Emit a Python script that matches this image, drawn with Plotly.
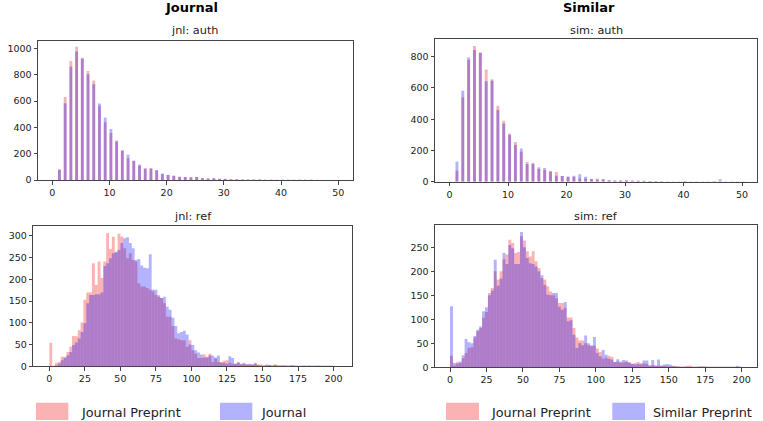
import plotly.graph_objects as go
import numpy as np

# ---------------- data ----------------
# top row: counts for integer values 0..50 (bins of width 0.5)
auth_vals = list(range(0, 51))
jnl_auth_preprint = [0, 80, 630, 904, 1013, 929, 829, 756, 564, 438, 358, 300, 224, 166, 146, 108, 88, 90, 75, 43,
                     40, 33, 25, 22, 20, 22, 15, 12, 12, 10, 10, 6, 5, 4, 4, 3, 3, 2, 2, 2,
                     2, 2, 2, 1, 1, 1, 1, 0, 0, 0, 0]
jnl_auth_journal = [0, 78, 584, 861, 977, 922, 804, 728, 582, 474, 388, 292, 224, 191, 146, 118, 88, 88, 75, 50,
                    38, 33, 25, 22, 20, 22, 14, 12, 15, 10, 8, 6, 5, 4, 3, 3, 3, 2, 2, 2,
                    2, 2, 1, 1, 1, 1, 0, 0, 0, 0, 0]
sim_auth_preprint = [0, 70, 540, 779, 868, 825, 717, 655, 486, 390, 309, 254, 192, 126, 122, 81, 75, 70, 62, 36,
                     32, 30, 21, 21, 17, 21, 15, 10, 8, 8, 10, 7, 6, 5, 5, 4, 3, 2, 2, 2,
                     3, 2, 2, 1, 1, 1, 2, 1, 1, 1, 1]
sim_auth_similar = [0, 128, 582, 795, 842, 825, 642, 646, 459, 373, 299, 235, 213, 113, 113, 92, 87, 64, 38, 36,
                    32, 38, 47, 32, 17, 13, 15, 10, 8, 8, 8, 6, 6, 6, 5, 3, 3, 2, 2, 2,
                    5, 2, 2, 1, 1, 5, 15, 2, 1, 1, 1]

# bottom row: 100 bins of width 2 over 0..200
ref_bin_starts = list(range(0, 200, 2))
jnl_ref_preprint = [54, 1, 8, 10, 22, 22, 33, 45, 70, 69,
                    83, 101, 153, 170, 170, 237, 187, 241, 203, 241,
                    307, 270, 298, 262, 305, 299, 272, 249, 260, 245,
                    241, 191, 184, 184, 180, 176, 172, 164, 164, 157,
                    145, 114, 114, 93, 64, 62, 60, 60, 45, 60,
                    37, 29, 19, 19, 28, 22, 29, 10, 18, 10,
                    10, 13, 14, 8, 6, 6, 10, 6, 8, 5,
                    6, 4, 8, 4, 4, 2, 2, 3, 2, 5,
                    2, 2, 3, 1, 2, 1, 2, 1, 1, 2,
                    1, 2, 1, 1, 2, 1, 1, 1, 1, 1]
jnl_ref_journal = [0, 0, 2, 6, 14, 19, 25, 33, 49, 55,
                   64, 79, 99, 145, 164, 164, 166, 166, 170, 231,
                   237, 249, 260, 264, 268, 284, 295, 297, 284, 272,
                   245, 247, 232, 227, 226, 258, 176, 176, 160, 157,
                   160, 137, 130, 112, 93, 76, 79, 82, 73, 50,
                   49, 37, 32, 27, 20, 20, 25, 25, 20, 25,
                   8, 8, 6, 23, 19, 6, 8, 5, 6, 4,
                   4, 4, 6, 3, 2, 2, 4, 3, 2, 3,
                   2, 2, 1, 2, 1, 3, 1, 1, 1, 1,
                   1, 1, 1, 1, 1, 1, 1, 1, 1, 1]
sim_ref_preprint = [24, 4, 11, 9, 19, 30, 40, 42, 62, 75,
                    82, 103, 115, 155, 165, 200, 183, 200, 225, 235,
                    266, 259, 238, 240, 273, 264, 242, 231, 242, 221,
                    207, 186, 183, 169, 158, 150, 144, 134, 134, 124,
                    104, 104, 82, 62, 56, 56, 50, 46, 44, 45,
                    39, 32, 18, 20, 24, 22, 11, 12, 12, 10,
                    11, 11, 8, 9, 11, 9, 8, 7, 4, 5,
                    4, 3, 3, 3, 2, 2, 3, 2, 2, 1,
                    2, 3, 3, 1, 1, 1, 2, 2, 1, 1,
                    1, 1, 1, 1, 1, 1, 1, 1, 1, 1]
sim_ref_similar = [127, 9, 8, 12, 25, 59, 52, 50, 65, 78,
                   85, 117, 125, 150, 160, 224, 170, 185, 238, 215,
                   255, 248, 215, 215, 282, 250, 228, 217, 215, 210,
                   200, 192, 172, 151, 150, 155, 155, 126, 120, 136,
                   96, 98, 68, 40, 50, 46, 66, 50, 46, 63,
                   30, 23, 36, 26, 18, 16, 11, 17, 10, 15,
                   14, 9, 7, 6, 7, 6, 14, 14, 4, 15,
                   3, 16, 3, 6, 7, 6, 2, 2, 1, 1,
                   1, 1, 1, 1, 1, 2, 1, 1, 1, 1,
                   1, 1, 1, 1, 1, 1, 1, 1, 3, 1]

col_titles = ["Journal", "Similar"]
sub_titles = ["jnl: auth", "sim: auth", "jnl: ref", "sim: ref"]
legend_left = ["Journal Preprint", "Journal"]
legend_right = ["Journal Preprint", "Similar Preprint"]

# ---------------- style ----------------
W, H = 763, 421
RED = "rgba(240,0,0,0.3)"
BLUE = "rgba(0,0,255,0.3)"
FONT = "DejaVu Sans"
FRAME = "#444444"


def px(x):
    return x / W


def py(y):
    return 1 - y / H


fig = go.Figure()

# axes layout: (xaxis name, yaxis name, x domain px, y domain px, xrange, yrange, xdtick, ydtick)
axes = [
    ("x", "y", (38, 352.5), (40.5, 180), (-2.5, 52.5), (0, 1060), 10, 200),
    ("x2", "y2", (435, 756.7), (39.3, 181.7), (-2.5, 52.5), (0, 911), 10, 200),
    ("x3", "y3", (33.3, 352), (226, 366.3), (-11.3, 213), (0, 323), 25, 50),
    ("x4", "y4", (435, 756.7), (225, 367.3), (-10.3, 210.3), (0, 296.5), 25, 50),
]

series = [
    (auth_vals, 0.5, jnl_auth_preprint, jnl_auth_journal),
    (auth_vals, 0.5, sim_auth_preprint, sim_auth_similar),
    (ref_bin_starts, 2, jnl_ref_preprint, jnl_ref_journal),
    (ref_bin_starts, 2, sim_ref_preprint, sim_ref_similar),
]

for (xa, ya, _, _, _, _, _, _), (starts, w, a, b) in zip(axes, series):
    xs = [s + w / 2 for s in starts]
    fig.add_trace(go.Bar(x=xs, y=a, width=w, marker=dict(color=RED, line=dict(width=0)),
                         xaxis=xa, yaxis=ya, showlegend=False, hoverinfo="skip"))
    fig.add_trace(go.Bar(x=xs, y=b, width=w, marker=dict(color=BLUE, line=dict(width=0)),
                         xaxis=xa, yaxis=ya, showlegend=False, hoverinfo="skip"))

layout = dict(
    template="none",
    width=W, height=H, margin=dict(l=0, r=0, t=0, b=0, pad=0), autosize=False,
    paper_bgcolor="white", plot_bgcolor="white",
    barmode="overlay", showlegend=False,
    font=dict(family=FONT, size=10, color="#222222"),
)

for i, (xa, ya, xd, yd, xr, yr, xdt, ydt) in enumerate(axes):
    xkey = "xaxis" if xa == "x" else "xaxis" + xa[1:]
    ykey = "yaxis" if ya == "y" else "yaxis" + ya[1:]
    common = dict(showline=True, mirror=True, linecolor=FRAME, linewidth=1, automargin=False,
                  showgrid=False, zeroline=False, ticks="outside", ticklen=3.5,
                  tickwidth=1, tickcolor=FRAME, tickfont=dict(family=FONT, size=9.5, color="#222222"))
    layout[xkey] = dict(domain=[px(xd[0]), px(xd[1])], range=list(xr), dtick=xdt, tick0=0,
                        anchor=ya, **common)
    layout[ykey] = dict(domain=[py(yd[1]), py(yd[0])], range=list(yr), dtick=ydt, tick0=0,
                        anchor=xa, **common)

fig.update_layout(**layout)

# titles
anns = []
anns.append(dict(text="<b>" + col_titles[0] + "</b>", x=px(192), y=py(7), xref="paper", yref="paper",
                 showarrow=False, font=dict(family=FONT, size=13, color="black"), xanchor="center", yanchor="middle"))
anns.append(dict(text="<b>" + col_titles[1] + "</b>", x=px(589), y=py(7), xref="paper", yref="paper",
                 showarrow=False, font=dict(family=FONT, size=13, color="black"), xanchor="center", yanchor="middle"))
title_pos = [(195, 30.5), (596, 30.5), (193, 216.5), (596, 216)]
for t, (tx, ty) in zip(sub_titles, title_pos):
    anns.append(dict(text=t, x=px(tx), y=py(ty), xref="paper", yref="paper", showarrow=False,
                     font=dict(family=FONT, size=11.3, color="#222222"), xanchor="center", yanchor="middle"))

# legends (patch + label)
shapes = []
leg_items = [
    ((36, 68.3), RED, 79, legend_left[0]),
    ((220, 252.3), BLUE, 259, legend_left[1]),
    ((446, 479), RED, 489, legend_right[0]),
    ((612.3, 645), BLUE, 651, legend_right[1]),
]
for (x0, x1), c, tx, label in leg_items:
    shapes.append(dict(type="rect", xref="paper", yref="paper", x0=px(x0), x1=px(x1),
                       y0=py(420), y1=py(402.7), fillcolor=c, line=dict(width=0)))
    anns.append(dict(text=label, x=px(tx), y=py(412), xref="paper", yref="paper", showarrow=False,
                     font=dict(family=FONT, size=12.8, color="#222222"), xanchor="left", yanchor="middle"))

fig.update_layout(annotations=anns, shapes=shapes)
fig.write_html("out.html", config={"displayModeBar": False, "responsive": False},
               post_script="document.body.style.margin='0';document.body.style.overflow='hidden';")
